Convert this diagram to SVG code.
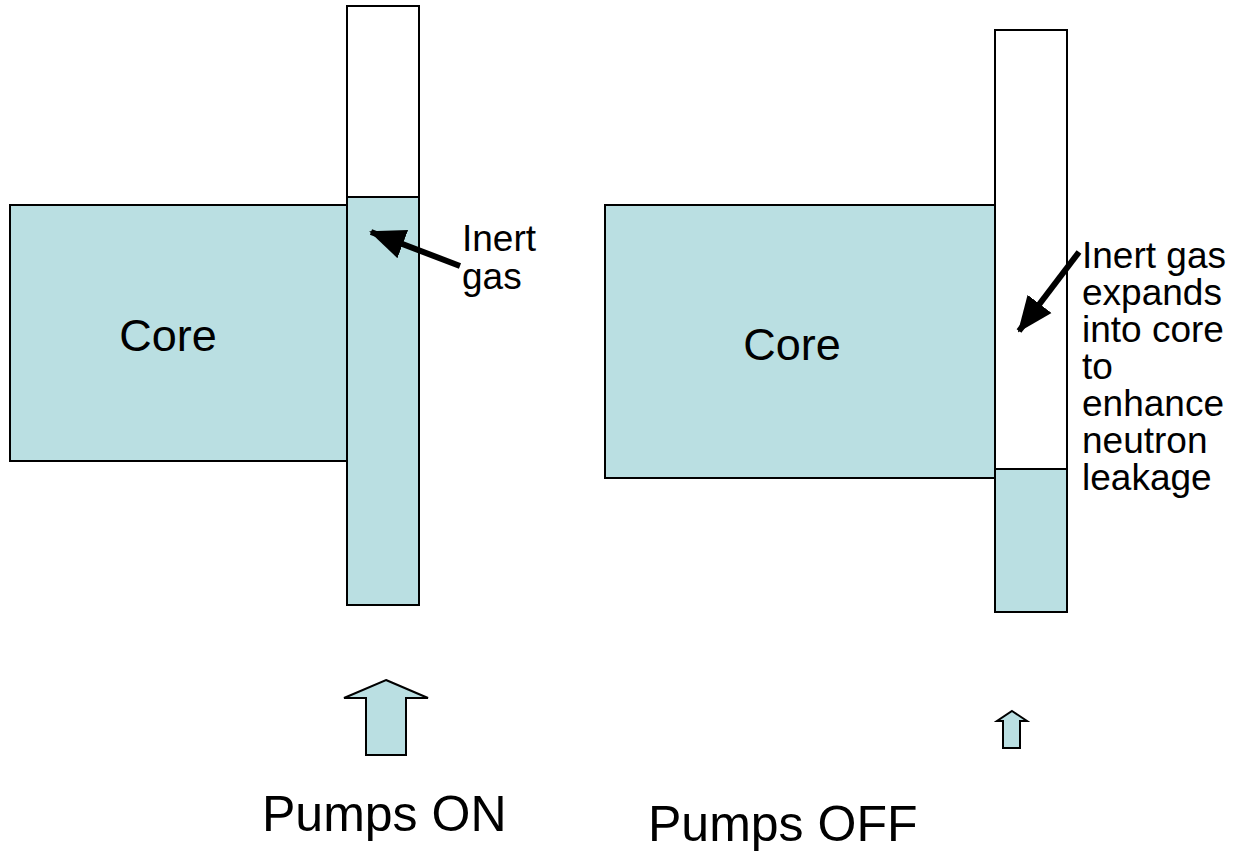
<svg xmlns="http://www.w3.org/2000/svg" width="1242" height="865" viewBox="0 0 1242 865">
<defs>
<style>
.fill{fill:#BADFE2;stroke:#000;stroke-width:2}
.open{fill:#fff;stroke:#000;stroke-width:2}
.t{font-family:"Liberation Sans",Arial,sans-serif;fill:#000}
.lbl{font-size:37px}
.core{font-size:45px}
.pump{font-size:50px}
.ptr{stroke:#000;stroke-width:6;fill:none}
</style>
<marker id="head" markerUnits="userSpaceOnUse" markerWidth="36" markerHeight="34" viewBox="0 0 36 34" refX="34" refY="17" orient="auto">
<path d="M0,2 L36,17 L0,32 Z" fill="#000"/>
</marker>
</defs>
<rect width="1242" height="865" fill="#fff"/>

<g id="left-core">
<rect class="fill" x="10" y="205" width="337" height="256"/>
<text class="t core" x="168" y="351" text-anchor="middle">Core</text>
</g>
<g id="left-column">
<rect class="open" x="347" y="6" width="72" height="191"/>
<rect class="fill" x="347" y="197" width="72" height="408"/>
</g>
<g id="left-label">
<text class="t lbl" x="462" y="251"><tspan x="462" y="251">Inert</tspan><tspan x="462" y="289">gas</tspan></text>
</g>
<g id="left-pump">
<polygon class="fill" points="386,680 428,698 406,698 406,755 366,755 366,698 344,698"/>
<text class="t pump" x="262" y="831">Pumps ON</text>
</g>

<g id="right-core">
<rect class="fill" x="605" y="205" width="390" height="273"/>
<text class="t core" x="792" y="360" text-anchor="middle">Core</text>
</g>
<g id="right-column">
<rect class="open" x="995" y="30" width="72" height="439"/>
<rect class="fill" x="995" y="469" width="72" height="143"/>
</g>
<g id="right-label">
<text class="t lbl" x="1082" y="268"><tspan x="1082" y="268">Inert gas</tspan><tspan x="1082" y="305">expands</tspan><tspan x="1082" y="342">into core</tspan><tspan x="1082" y="379">to</tspan><tspan x="1082" y="416">enhance</tspan><tspan x="1082" y="453">neutron</tspan><tspan x="1082" y="490">leakage</tspan></text>
</g>
<g id="right-pump">
<polygon class="fill" points="1012,711 1027,721 1020,721 1020,748 1003,748 1003,721 997,721"/>
<text class="t pump" x="648" y="841">Pumps OFF</text>
</g>

<g id="connectors">
<line class="ptr" x1="460" y1="266" x2="371" y2="232" marker-end="url(#head)"/>
<line class="ptr" x1="1079" y1="252" x2="1019" y2="331" marker-end="url(#head)"/>
</g>
</svg>
